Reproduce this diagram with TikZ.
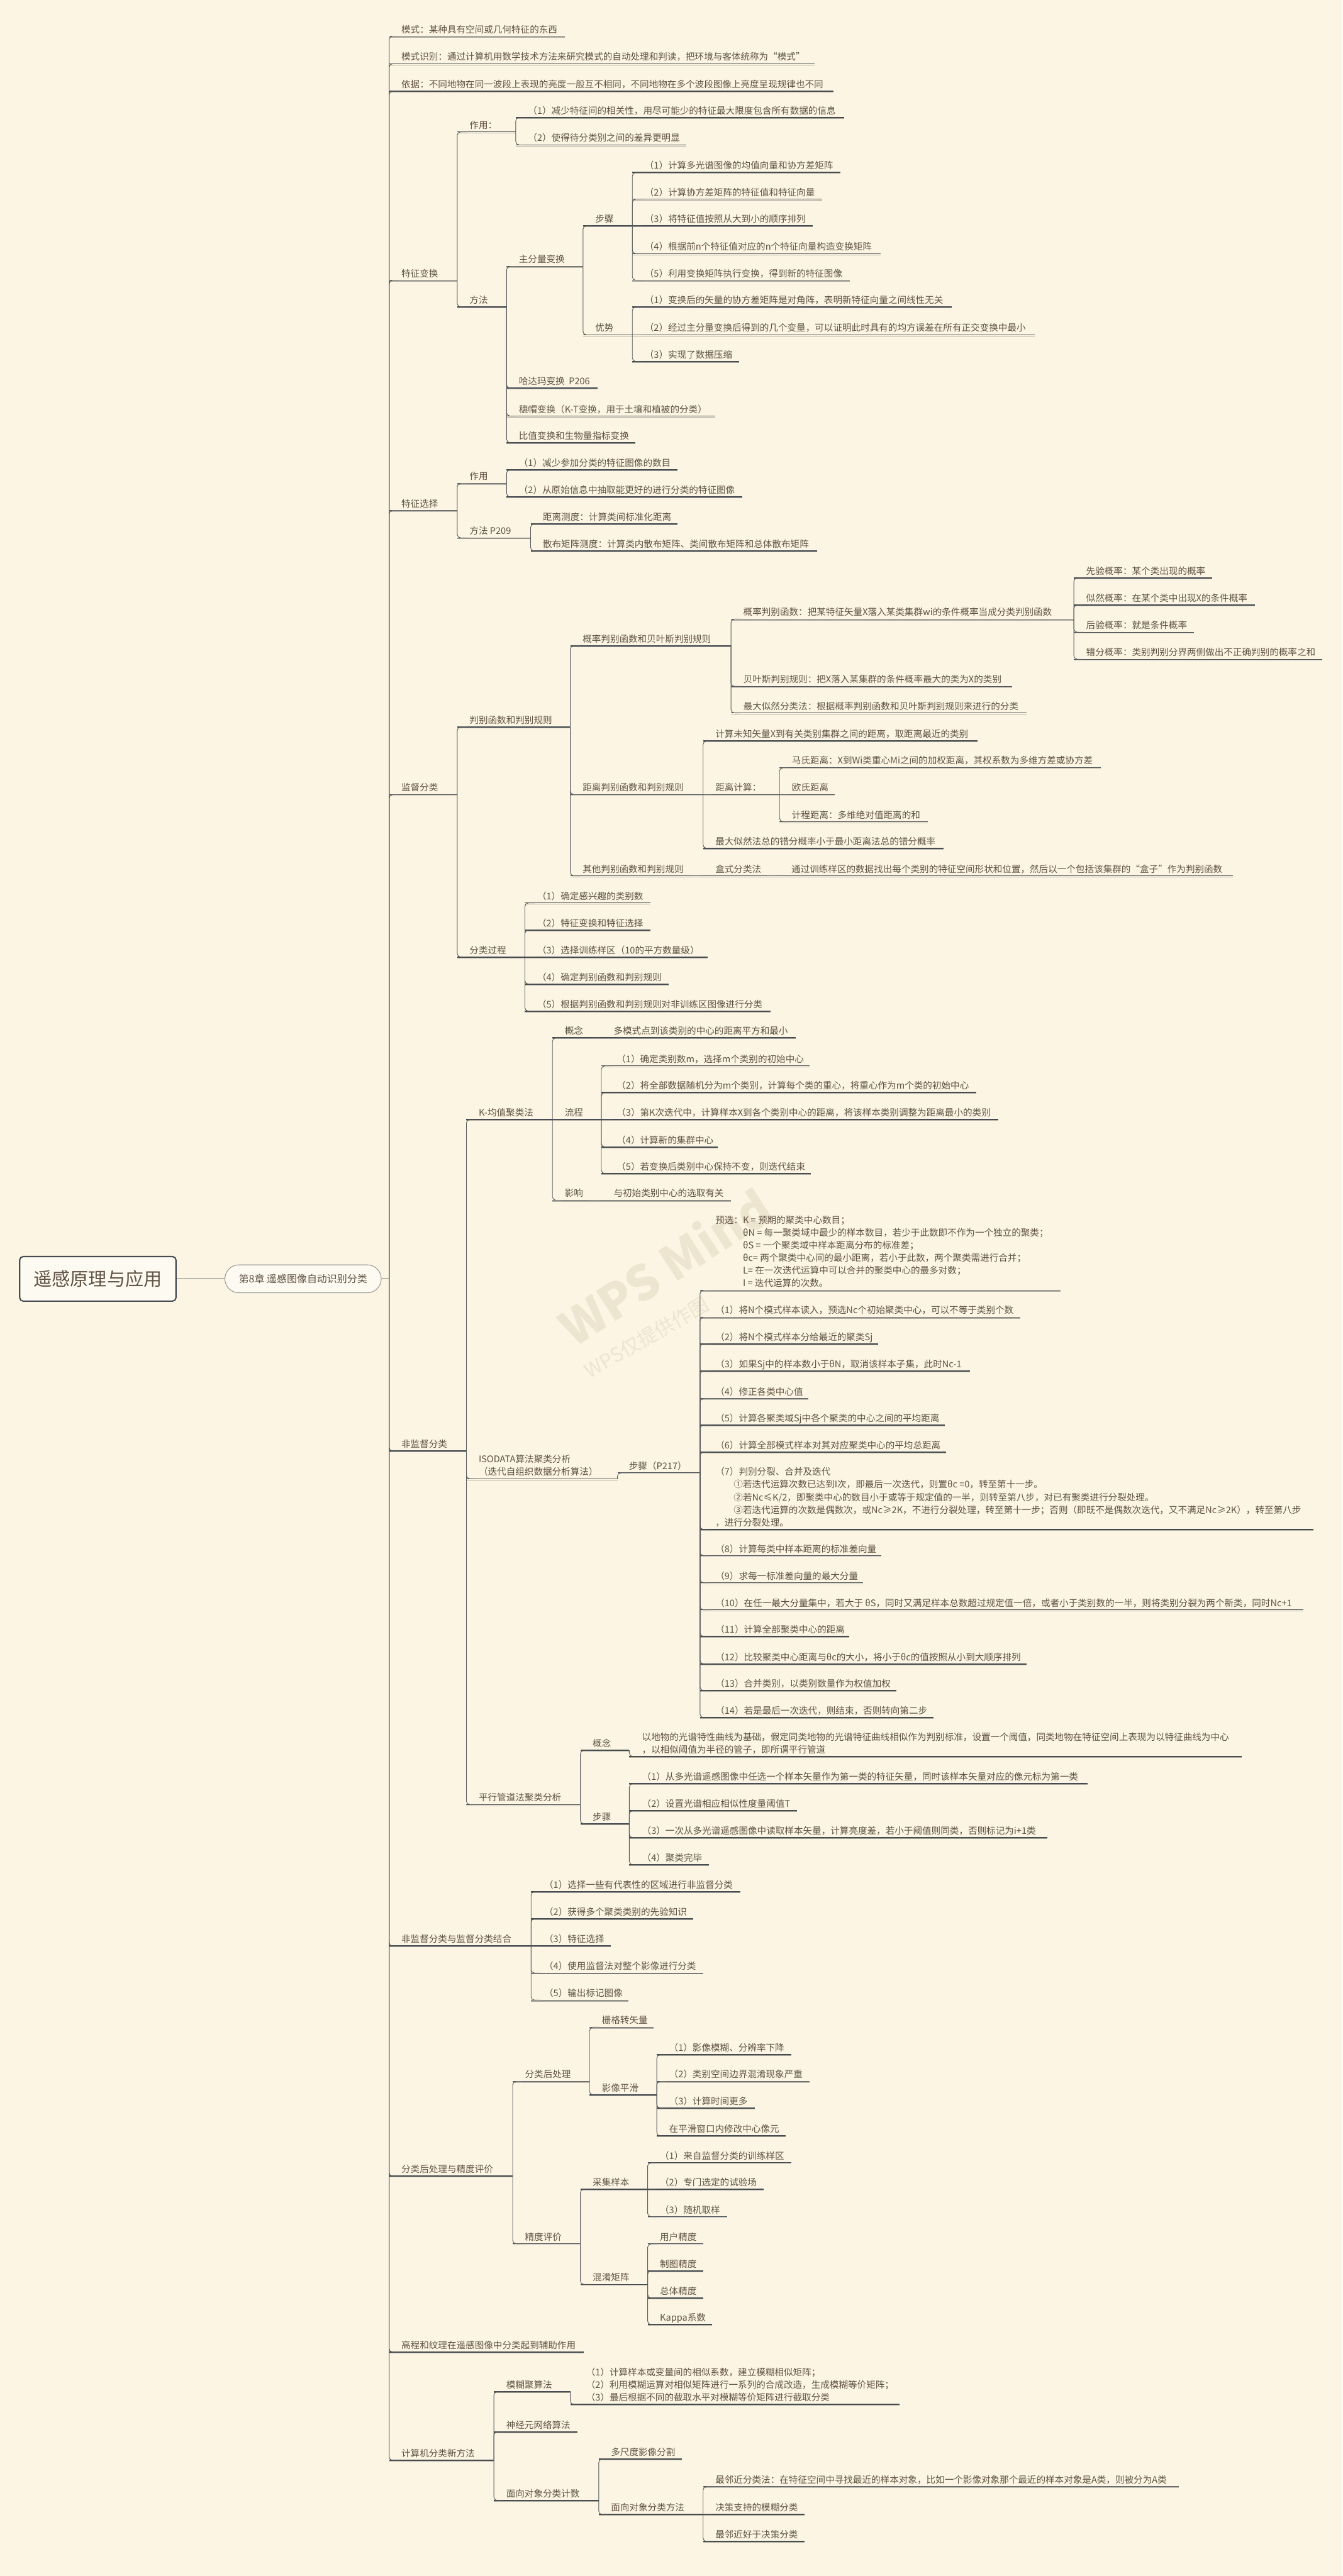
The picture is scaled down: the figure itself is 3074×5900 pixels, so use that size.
\documentclass[tikz,border=0pt]{standalone}
\usepackage{fontspec}
\setmainfont{Noto Sans CJK SC}
\usetikzlibrary{calc}
\definecolor{bgc}{RGB}{252,245,227}
\definecolor{txtc}{RGB}{96,82,66}
\definecolor{ulc}{RGB}{70,76,82}
\definecolor{shc}{RGB}{175,172,160}
\definecolor{cnc}{RGB}{84,88,92}
\definecolor{wmc}{RGB}{238,229,208}
\newcommand\mmtopic[6][28]{%
  \coordinate (#2-s) at (#3,#4);
  \coordinate (#2-e) at (#5,#4);
  \draw[ushadow] (#3,#4+2.4) -- (#5,#4+2.4);
  \draw[uline] (#2-s) -- (#2-e);
  \node[topic] (#2) at (#3+#1,#4-8) {#6};
}
\newcommand\mmlink[2]{\draw[conn] (#1-e) |- ($(#2-s)+(22,0)$);}
\newcommand\mmlinks[2]{\draw[conn,sharp corners] (#1-e) -- ($(#2-s)+(22,0)$);}
\begin{document}
\begin{tikzpicture}[x=1pt,y=-1pt,
  topic/.style={anchor=base west,inner sep=0pt,text=txtc,font=\fontsize{21}{29}\selectfont},
  uline/.style={draw=ulc,line width=2.2pt},
  ushadow/.style={draw=shc,line width=1.4pt},
  conn/.style={draw=cnc,line width=1.3pt,rounded corners=8pt},
  rootbox/.style={draw=ulc,line width=3pt,rounded corners=8pt,fill={rgb,255:red,253;green,250;blue,241},
    minimum width=358pt,minimum height=102pt,inner sep=0pt,text=txtc,font=\fontsize{42}{50}\selectfont},
  pill/.style={draw={rgb,255:red,150;green,150;blue,145},line width=1.5pt,rounded corners=32pt,
    fill={rgb,255:red,253;green,250;blue,241},minimum width=358pt,minimum height=64pt,inner sep=0pt,
    text=txtc,font=\fontsize{23}{28}\selectfont},
  wm/.style={text=wmc,inner sep=0pt}]
\fill[bgc] (0,0) rectangle (3074,5900);
\useasboundingbox (0,0) rectangle (3074,5900);
% watermark
\node[wm,rotate=33] (wm1) at (1522,2900) {\fontsize{110}{110}\selectfont\bfseries WPS Mind};
\node[wm,rotate=30] (wm2) at (1480,3063) {\fontsize{45}{45}\selectfont WPS仅提供作图};
% root and chapter
\node[rootbox] (root) at (224,2929) {遥感原理与应用};
\node[pill] (chap) at (694,2929) {第8章 遥感图像自动识别分类};
\coordinate (chap-e) at (891,2929);
\draw[conn] (root.east) -- (chap.west);
\draw[conn] (chap.east) -- (chap-e);
% ---------- level 1
\mmtopic{a1}{891}{83}{1294}{模式：某种具有空间或几何特征的东西}
\mmtopic{a2}{891}{146}{1866}{模式识别：通过计算机用数学技术方法来研究模式的自动处理和判读，把环境与客体统称为“模式”}
\mmtopic{a3}{891}{209}{1908}{依据：不同地物在同一波段上表现的亮度一般互不相同，不同地物在多个波段图像上亮度呈现规律也不同}
\mmtopic{b}{891}{642}{1047}{特征变换}
\mmtopic{c}{891}{1169}{1047}{特征选择}
\mmtopic{d}{891}{1820}{1047}{监督分类}
\mmtopic{e}{891}{3323}{1068}{非监督分类}
\mmtopic{f}{891}{4457}{1216}{非监督分类与监督分类结合}
\mmtopic{h}{891}{4984}{1174}{分类后处理与精度评价}
\mmtopic{j}{891}{5387}{1336}{高程和纹理在遥感图像中分类起到辅助作用}
\mmtopic{n}{891}{5635}{1131}{计算机分类新方法}
\foreach \c in {a1,a2,a3,b,c,d,e,f,h,j,n} {\mmlink{chap}{\c}}
% ---------- 特征变换
\mmtopic{b1}{1047}{302}{1181}{作用：}
\mmtopic{b11}{1181}{269}{1933}{（1）减少特征间的相关性，用尽可能少的特征最大限度包含所有数据的信息}
\mmtopic{b12}{1181}{332}{1572}{（2）使得待分类别之间的差异更明显}
\mmtopic{b2}{1047}{703}{1160}{方法}
\mmtopic{b21}{1160}{610}{1335}{主分量变换}
\mmtopic{b211}{1335}{517}{1448}{步骤}
\mmtopic{s1}{1448}{395}{1925}{（1）计算多光谱图像的均值向量和协方差矩阵}
\mmtopic{s2}{1448}{456}{1883}{（2）计算协方差矩阵的特征值和特征向量}
\mmtopic{s3}{1448}{517}{1861}{（3）将特征值按照从大到小的顺序排列}
\mmtopic{s4}{1448}{581}{2017}{（4）根据前n个特征值对应的n个特征向量构造变换矩阵}
\mmtopic{s5}{1448}{642}{1946}{（5）利用变换矩阵执行变换，得到新的特征图像}
\mmtopic{b212}{1335}{767}{1448}{优势}
\mmtopic{y1}{1448}{703}{2179}{（1）变换后的矢量的协方差矩阵是对角阵，表明新特征向量之间线性无关}
\mmtopic{y2}{1448}{767}{2370}{（2）经过主分量变换后得到的几个变量，可以证明此时具有的均方误差在所有正交变换中最小}
\mmtopic{y3}{1448}{828}{1692}{（3）实现了数据压缩}
\mmtopic{b22}{1160}{889}{1369}{哈达玛变换\ \ P206}
\mmtopic{b23}{1160}{953}{1638}{穗帽变换（K-T变换，用于土壤和植被的分类）}
\mmtopic{b24}{1160}{1014}{1455}{比值变换和生物量指标变换}
\mmlink{b}{b1}\mmlink{b}{b2}
\mmlink{b1}{b11}\mmlink{b1}{b12}
\mmlink{b2}{b21}\mmlink{b2}{b22}\mmlink{b2}{b23}\mmlink{b2}{b24}
\mmlink{b21}{b211}\mmlink{b21}{b212}
\mmlink{b211}{s1}\mmlink{b211}{s2}\mmlinks{b211}{s3}\mmlink{b211}{s4}\mmlink{b211}{s5}
\mmlink{b212}{y1}\mmlinks{b212}{y2}\mmlink{b212}{y3}
% ---------- 特征选择
\mmtopic{c1}{1047}{1107}{1160}{作用}
\mmtopic{c11}{1160}{1076}{1552}{（1）减少参加分类的特征图像的数目}
\mmtopic{c12}{1160}{1138}{1700}{（2）从原始信息中抽取能更好的进行分类的特征图像}
\mmtopic{c2}{1047}{1232}{1215}{方法 P209}
\mmtopic{c21}{1215}{1200}{1552}{距离测度：计算类间标准化距离}
\mmtopic{c22}{1215}{1262}{1871}{散布矩阵测度：计算类内散布矩阵、类间散布矩阵和总体散布矩阵}
\mmlink{c}{c1}\mmlink{c}{c2}
\mmlink{c1}{c11}\mmlink{c1}{c12}
\mmlink{c2}{c21}\mmlink{c2}{c22}
% ---------- 监督分类
\mmtopic{d1}{1047}{1665}{1306}{判别函数和判别规则}
\mmtopic{d11}{1306}{1479}{1674}{概率判别函数和贝叶斯判别规则}
\mmtopic{d111}{1674}{1418}{2459}{概率判别函数：把某特征矢量X落入某类集群wi的条件概率当成分类判别函数}
\mmtopic{p1}{2459}{1324}{2776}{先验概率：某个类出现的概率}
\mmtopic{p2}{2459}{1386}{2874}{似然概率：在某个类中出现X的条件概率}
\mmtopic{p3}{2459}{1448}{2734}{后验概率：就是条件概率}
\mmtopic{p4}{2459}{1510}{3028}{错分概率：类别判别分界两侧做出不正确判别的概率之和}
\mmtopic{d112}{1674}{1572}{2317}{贝叶斯判别规则：把X落入某集群的条件概率最大的类为X的类别}
\mmtopic{d113}{1674}{1633}{2351}{最大似然分类法：根据概率判别函数和贝叶斯判别规则来进行的分类}
\mmtopic{d12}{1306}{1820}{1610}{距离判别函数和判别规则}
\mmtopic{d121}{1610}{1697}{2238}{计算未知矢量X到有关类别集群之间的距离，取距离最近的类别}
\mmtopic{d122}{1610}{1820}{1785}{距离计算：}
\mmtopic{m1}{1785}{1758}{2521}{马氏距离：X到Wi类重心Mi之间的加权距离，其权系数为多维方差或协方差}
\mmtopic{m2}{1785}{1820}{1912}{欧氏距离}
\mmtopic{m3}{1785}{1882}{2124}{计程距离：多维绝对值距离的和}
\mmtopic{d123}{1610}{1943}{2161}{最大似然法总的错分概率小于最小距离法总的错分概率}
\mmtopic{d13}{1306}{2006}{1583}{其他判别函数和判别规则}
\mmtopic[55]{d131}{1583}{2006}{1758}{盒式分类法}
\mmtopic[54]{d1311}{1758}{2006}{2823}{通过训练样区的数据找出每个类别的特征空间形状和位置，然后以一个包括该集群的“盒子”作为判别函数}
\mmtopic{d2}{1047}{2192}{1202}{分类过程}
\mmtopic{q1}{1202}{2068}{1489}{（1）确定感兴趣的类别数}
\mmtopic{q2}{1202}{2130}{1489}{（2）特征变换和特征选择}
\mmtopic{q3}{1202}{2192}{1620}{（3）选择训练样区（10的平方数量级）}
\mmtopic{q4}{1202}{2254}{1531}{（4）确定判别函数和判别规则}
\mmtopic{q5}{1202}{2316}{1764}{（5）根据判别函数和判别规则对非训练区图像进行分类}
\mmlink{d}{d1}\mmlink{d}{d2}
\mmlink{d1}{d11}\mmlink{d1}{d12}\mmlink{d1}{d13}
\mmlink{d11}{d111}\mmlink{d11}{d112}\mmlink{d11}{d113}
\mmlink{d111}{p1}\mmlink{d111}{p2}\mmlink{d111}{p3}\mmlink{d111}{p4}
\mmlink{d12}{d121}\mmlinks{d12}{d122}\mmlink{d12}{d123}
\mmlink{d122}{m1}\mmlinks{d122}{m2}\mmlink{d122}{m3}
\mmlinks{d13}{d131}\mmlinks{d131}{d1311}
\mmlink{d2}{q1}\mmlink{d2}{q2}\mmlinks{d2}{q3}\mmlink{d2}{q4}\mmlink{d2}{q5}
% ---------- 非监督分类
\mmtopic{e1}{1068}{2564}{1265}{K-均值聚类法}
\mmtopic{e11}{1265}{2377}{1350}{概念}
\mmtopic[55]{e111}{1350}{2377}{1822}{多模式点到该类别的中心的距离平方和最小}
\mmtopic{e12}{1265}{2564}{1377}{流程}
\mmtopic[35]{km1}{1377}{2441}{1854}{（1）确定类别数m，选择m个类别的初始中心}
\mmtopic[35]{km2}{1377}{2502}{2236}{（2）将全部数据随机分为m个类别，计算每个类的重心，将重心作为m个类的初始中心}
\mmtopic[35]{km3}{1377}{2564}{2286}{（3）第K次迭代中，计算样本X到各个类别中心的距离，将该样本类别调整为距离最小的类别}
\mmtopic[35]{km4}{1377}{2627}{1644}{（4）计算新的集群中心}
\mmtopic[35]{km5}{1377}{2688}{1856}{（5）若变换后类别中心保持不变，则迭代结束}
\mmtopic{e13}{1265}{2749}{1350}{影响}
\mmtopic[55]{e131}{1350}{2749}{1674}{与初始类别中心的选取有关}
\mmtopic{e2}{1068}{3387}{1414}{\begin{tabular}[b]{@{}l@{}}ISODATA算法聚类分析\\（迭代自组织数据分析算法）\end{tabular}}
\mmtopic[26]{e21}{1414}{3373}{1603}{步骤（P217）}
\mmtopic[35]{i0}{1603}{2955}{2429}{\begin{tabular}[b]{@{}l@{}l@{}}预选：&K = 预期的聚类中心数目；\\ &θN = 每一聚类域中最少的样本数目，若少于此数即不作为一个独立的聚类；\\ &θS = 一个聚类域中样本距离分布的标准差；\\ &θc= 两个聚类中心间的最小距离，若小于此数，两个聚类需进行合并；\\ &L= 在一次迭代运算中可以合并的聚类中心的最多对数；\\ &I = 迭代运算的次数。\end{tabular}}
\mmtopic[35]{i1}{1603}{3017}{2337}{（1）将N个模式样本读入，预选Nc个初始聚类中心，可以不等于类别个数}
\mmtopic[35]{i2}{1603}{3078}{2011}{（2）将N个模式样本分给最近的聚类Sj}
\mmtopic[35]{i3}{1603}{3140}{2221}{（3）如果Sj中的样本数小于θN，取消该样本子集，此时Nc-1}
\mmtopic[35]{i4}{1603}{3203}{1851}{（4）修正各类中心值}
\mmtopic[35]{i5}{1603}{3264}{2164}{（5）计算各聚类域Sj中各个聚类的中心之间的平均距离}
\mmtopic[35]{i6}{1603}{3326}{2166}{（6）计算全部模式样本对其对应聚类中心的平均总距离}
\mmtopic[35]{i7}{1603}{3503}{3008}{\begin{tabular}[b]{@{}l@{}}（7）判别分裂、合并及迭代\\ \hspace*{2em}①若迭代运算次数已达到I次，即最后一次迭代，则置θc =0，转至第十一步。\\ \hspace*{2em}②若Nc≤K/2，即聚类中心的数目小于或等于规定值的一半，则转至第八步，对已有聚类进行分裂处理。\\ \hspace*{2em}③若迭代运算的次数是偶数次，或Nc≥2K，不进行分裂处理，转至第十一步；否则（即既不是偶数次迭代，又不满足Nc≥2K），转至第八步\\，进行分裂处理。\end{tabular}}
\mmtopic[35]{i8}{1603}{3563}{2018}{（8）计算每类中样本距离的标准差向量}
\mmtopic[35]{i9}{1603}{3625}{1976}{（9）求每一标准差向量的最大分量}
\mmtopic[35]{i10}{1603}{3687}{2985}{（10）在任一最大分量集中，若大于 θS，同时又满足样本总数超过规定值一倍，或者小于类别数的一半，则将类别分裂为两个新类，同时Nc+1}
\mmtopic[35]{i11}{1603}{3748}{1945}{（11）计算全部聚类中心的距离}
\mmtopic[35]{i12}{1603}{3811}{2351}{（12）比较聚类中心距离与θc的大小，将小于θc的值按照从小到大顺序排列}
\mmtopic[35]{i13}{1603}{3872}{2052}{（13）合并类别，以类别数量作为权值加权}
\mmtopic[35]{i14}{1603}{3934}{2137}{（14）若是最后一次迭代，则结束，否则转向第二步}
\mmtopic{e3}{1068}{4133}{1329}{平行管道法聚类分析}
\mmtopic{e31}{1329}{4009}{1441}{概念}
\mmtopic[29]{e311}{1441}{4023}{2844}{\begin{tabular}[b]{@{}l@{}}以地物的光谱特性曲线为基础，假定同类地物的光谱特征曲线相似作为判别标准，设置一个阈值，同类地物在特征空间上表现为以特征曲线为中心\\，以相似阈值为半径的管子，即所谓平行管道\end{tabular}}
\mmtopic{e32}{1329}{4177}{1441}{步骤}
\mmtopic[29]{g1}{1441}{4085}{2490}{（1）从多光谱遥感图像中任选一个样本矢量作为第一类的特征矢量，同时该样本矢量对应的像元标为第一类}
\mmtopic[29]{g2}{1441}{4147}{1825}{（2）设置光谱相应相似性度量阈值T}
\mmtopic[29]{g3}{1441}{4209}{2398}{（3）一次从多光谱遥感图像中读取样本矢量，计算亮度差，若小于阈值则同类，否则标记为i+1类}
\mmtopic[29]{g4}{1441}{4271}{1623}{（4）聚类完毕}
\mmlink{e}{e1}\mmlink{e}{e2}\mmlink{e}{e3}
\mmlink{e1}{e11}\mmlinks{e1}{e12}\mmlink{e1}{e13}
\mmlinks{e11}{e111}\mmlinks{e13}{e131}
\mmlink{e12}{km1}\mmlink{e12}{km2}\mmlinks{e12}{km3}\mmlink{e12}{km4}\mmlink{e12}{km5}
\mmlink{e2}{e21}
\foreach \c in {i0,i1,i2,i3,i4,i5,i6,i7,i8,i9,i10,i11,i12,i13,i14} {\mmlink{e21}{\c}}
\mmlink{e3}{e31}\mmlink{e3}{e32}
\mmlink{e31}{e311}
\mmlink{e32}{g1}\mmlink{e32}{g2}\mmlink{e32}{g3}\mmlink{e32}{g4}
% ---------- 结合
\mmtopic[30]{f1}{1216}{4333}{1695}{（1）选择一些有代表性的区域进行非监督分类}
\mmtopic[30]{f2}{1216}{4395}{1587}{（2）获得多个聚类类别的先验知识}
\mmtopic[30]{f3}{1216}{4457}{1398}{（3）特征选择}
\mmtopic[30]{f4}{1216}{4519}{1610}{（4）使用监督法对整个影像进行分类}
\mmtopic[30]{f5}{1216}{4581}{1439}{（5）输出标记图像}
\mmlink{f}{f1}\mmlink{f}{f2}\mmlinks{f}{f3}\mmlink{f}{f4}\mmlink{f}{f5}
% ---------- 分类后处理与精度评价
\mmtopic{h1}{1174}{4767}{1350}{分类后处理}
\mmtopic{h11}{1350}{4643}{1497}{栅格转矢量}
\mmtopic{h12}{1350}{4798}{1504}{影像平滑}
\mmtopic{h121}{1504}{4706}{1812}{（1）影像模糊、分辨率下降}
\mmtopic{h122}{1504}{4767}{1854}{（2）类别空间边界混淆现象严重}
\mmtopic{h123}{1504}{4828}{1729}{（3）计算时间更多}
\mmtopic{h124}{1504}{4892}{1799}{在平滑窗口内修改中心像元}
\mmtopic{h2}{1174}{5139}{1329}{精度评价}
\mmtopic{h21}{1329}{5014}{1483}{采集样本}
\mmtopic{h211}{1483}{4953}{1812}{（1）来自监督分类的训练样区}
\mmtopic{h212}{1483}{5014}{1748}{（2）专门选定的试验场}
\mmtopic{h213}{1483}{5077}{1665}{（3）随机取样}
\mmtopic{h22}{1329}{5232}{1483}{混淆矩阵}
\mmtopic{h221}{1483}{5139}{1610}{用户精度}
\mmtopic{h222}{1483}{5201}{1610}{制图精度}
\mmtopic{h223}{1483}{5263}{1610}{总体精度}
\mmtopic{h224}{1483}{5324}{1631}{Kappa系数}
\mmlink{h}{h1}\mmlink{h}{h2}
\mmlink{h1}{h11}\mmlink{h1}{h12}
\mmlink{h12}{h121}\mmlink{h12}{h122}\mmlink{h12}{h123}\mmlink{h12}{h124}
\mmlink{h2}{h21}\mmlink{h2}{h22}
\mmlink{h21}{h211}\mmlinks{h21}{h212}\mmlink{h21}{h213}
\mmlink{h22}{h221}\mmlink{h22}{h222}\mmlink{h22}{h223}\mmlink{h22}{h224}
% ---------- 计算机分类新方法
\mmtopic{n1}{1131}{5478}{1306}{模糊聚算法}
\mmtopic[36]{n11}{1306}{5507}{2060}{\begin{tabular}[b]{@{}l@{}}（1）计算样本或变量间的相似系数，建立模糊相似矩阵；\\（2）利用模糊运算对相似矩阵进行一系列的合成改造，生成模糊等价矩阵；\\（3）最后根据不同的截取水平对模糊等价矩阵进行截取分类\end{tabular}}
\mmtopic{n2}{1131}{5570}{1322}{神经元网络算法}
\mmtopic{n3}{1131}{5727}{1371}{面向对象分类计数}
\mmtopic{n31}{1371}{5632}{1561}{多尺度影像分割}
\mmtopic{n32}{1371}{5759}{1610}{面向对象分类方法}
\mmtopic{n321}{1610}{5695}{2699}{最邻近分类法：在特征空间中寻找最近的样本对象，比如一个影像对象那个最近的样本对象是A类，则被分为A类}
\mmtopic{n322}{1610}{5759}{1843}{决策支持的模糊分类}
\mmtopic{n323}{1610}{5821}{1843}{最邻近好于决策分类}
\mmlink{n}{n1}\mmlink{n}{n2}\mmlink{n}{n3}
\mmlink{n1}{n11}
\mmlink{n3}{n31}\mmlink{n3}{n32}
\mmlink{n32}{n321}\mmlinks{n32}{n322}\mmlink{n32}{n323}
\end{tikzpicture}
\end{document}
